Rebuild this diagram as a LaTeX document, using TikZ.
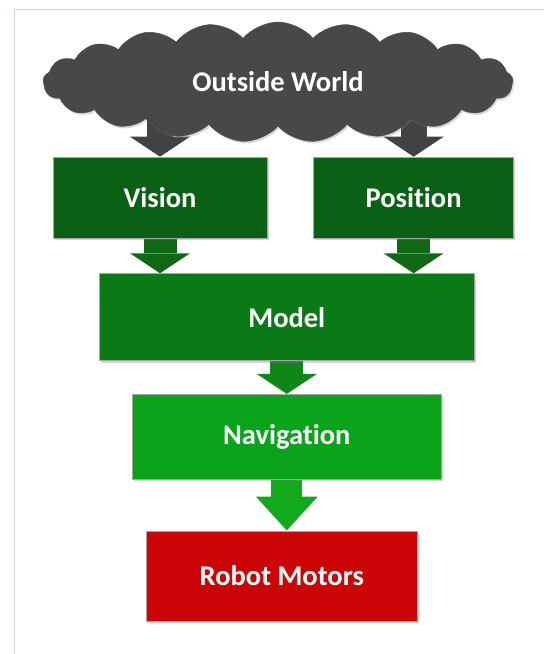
\documentclass[tikz,border=0pt]{standalone}
\usepackage{fontspec}
\setmainfont{Carlito}[Ligatures=NoCommon]
\usepackage{xcolor}
\usepackage{tikz}
\usetikzlibrary{arrows.meta,positioning,calc,shapes.symbols,shadows,backgrounds}

\definecolor{framecol}{RGB}{200,212,232}
\definecolor{cloudgray}{RGB}{72,72,72}
\definecolor{arrowgray}{RGB}{66,66,66}
\definecolor{visgreen}{RGB}{10,96,20}
\definecolor{visarrow}{RGB}{14,104,20}
\definecolor{modelgreen}{RGB}{10,122,22}
\definecolor{modelarrow}{RGB}{14,134,24}
\definecolor{navgreen}{RGB}{10,164,26}
\definecolor{navarrow}{RGB}{16,170,28}
\definecolor{motorred}{RGB}{204,6,6}

\begin{document}
\begin{tikzpicture}[x=1pt,y=-1pt,font=\fontsize{28.5}{34}\selectfont\bfseries,>=Latex,node distance=35pt]
\tikzstyle{blk}=[draw=black!35,line width=0.6pt,minimum height=81pt,inner sep=0pt,text=white,drop shadow={shadow xshift=1.5pt,shadow yshift=-2pt,opacity=0.35}]
\tikzstyle{flow}=[line width=30pt,-{Triangle[width=60pt,length=20pt,line width=0pt]}]
\useasboundingbox (0,0) rectangle (544,654);
\draw[framecol,line width=1pt] (544,9.5) -- (14.5,9.5) -- (14.5,654);
\node[cloud,cloud puffs=21,cloud puff arc=100,cloud ignores aspect,fill=cloudgray,draw=black!70,minimum width=470pt,minimum height=120pt,text=white,drop shadow={shadow xshift=1.5pt,shadow yshift=-2pt,opacity=0.3}] (world) at (278,82) {Outside World};
\node[blk,fill=visgreen,minimum width=214pt] (vision) at (160,197.5) {Vision};
\node[blk,fill=visgreen,minimum width=200pt,right=46pt of vision] (position) {Position};
\node[blk,fill=modelgreen,minimum width=375pt,minimum height=87pt,below=35pt of $(vision.south)!0.5!(position.south)$] (model) {Model};
\node[blk,fill=navgreen,minimum width=309pt,minimum height=85pt,below=33pt of model] (nav) {Navigation};
\node[blk,fill=motorred,minimum width=271pt,minimum height=90pt,below=51pt of nav,xshift=-5pt] (motors) {Robot Motors};
\begin{pgfonlayer}{background}
\draw[flow,line width=26pt,draw=arrowgray] (vision.north |- world.center) -- (vision.north);
\draw[flow,line width=26pt,draw=arrowgray] (position.north |- world.center) -- (position.north);
\draw[flow,line width=33pt,draw=visarrow] (vision.south) -- (vision.south |- model.north);
\draw[flow,line width=33pt,draw=visarrow] (position.south) -- (position.south |- model.north);
\draw[flow,line width=33pt,draw=modelarrow] (model.south) -- (nav.north);
\draw[flow,line width=31pt,draw=navarrow,-{Triangle[width=62pt,length=34pt,line width=0pt]}] (nav.south) -- (nav.south |- motors.north);
\end{pgfonlayer}
\end{tikzpicture}
\end{document}
